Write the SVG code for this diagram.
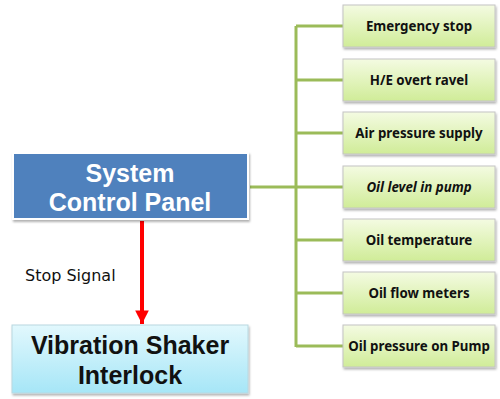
<svg xmlns="http://www.w3.org/2000/svg" width="500" height="399" viewBox="0 0 500 399">
<defs>
<linearGradient id="gGreen" x1="0" y1="0" x2="0" y2="1">
<stop offset="0" stop-color="#F4FBE2"/>
<stop offset="1" stop-color="#D0EC98"/>
</linearGradient>
<linearGradient id="gCyan" x1="0" y1="0" x2="0" y2="1">
<stop offset="0" stop-color="#E2F8FD"/>
<stop offset="1" stop-color="#A6E6F7"/>
</linearGradient>
<filter id="sh" x="-10%" y="-10%" width="120%" height="130%">
<feDropShadow dx="1" dy="2" stdDeviation="1.2" flood-color="#000" flood-opacity="0.3"/>
</filter>
<marker id="ah" viewBox="0 0 10 10" refX="10" refY="5" markerWidth="3.6" markerHeight="3.4" orient="auto" markerUnits="strokeWidth">
<path d="M0,0 L10,5 L0,10 z" fill="#FF0000"/>
</marker>
</defs>
<style>
.g rect{fill:url(#gGreen);stroke:#C4C4C4;stroke-width:1;filter:url(#sh)}
.g text{font-family:"Noto Sans","Open Sans",sans-serif;font-weight:bold;font-size:13.3px;fill:#111;text-anchor:middle}
.big{font-family:"Liberation Sans",Arial,sans-serif;font-weight:bold;font-size:25px;text-anchor:middle}
.conn line{stroke:#9BBB59;stroke-width:3;fill:none}
</style>
<rect width="500" height="399" fill="#FFFFFF"/>
<g class="conn" id="connectors">
<line x1="296" y1="26" x2="296" y2="347"/>
<line x1="250" y1="187" x2="296" y2="187"/>
<line x1="296" y1="26" x2="343" y2="26"/>
<line x1="296" y1="80" x2="343" y2="80"/>
<line x1="296" y1="133" x2="343" y2="133"/>
<line x1="296" y1="187" x2="343" y2="187"/>
<line x1="296" y1="240" x2="343" y2="240"/>
<line x1="296" y1="293" x2="343" y2="293"/>
<line x1="296" y1="346" x2="343" y2="346"/>
<line x1="142" y1="221" x2="142" y2="324" marker-end="url(#ah)" style="stroke:#FF0000;stroke-width:4"/>
<text x="25" y="281" font-family="DejaVu Sans,sans-serif" font-size="16" fill="#111">Stop Signal</text>
</g>
<g id="scp">
<rect x="13" y="153" width="235" height="66" fill="#4F81BD" stroke="#FFFFFF" stroke-width="2" filter="url(#sh)"/>
<text class="big" x="130" y="182" fill="#FFFFFF">System</text>
<text class="big" x="130" y="211" fill="#FFFFFF">Control  Panel</text>
</g>
<g id="vsi">
<rect x="12" y="325" width="236" height="68" fill="url(#gCyan)" stroke="#B9D8E0" stroke-width="1" filter="url(#sh)"/>
<text class="big" x="130" y="354" fill="#111">Vibration  Shaker</text>
<text class="big" x="130" y="384" fill="#111">Interlock</text>
</g>
<g class="g" id="n1"><rect x="343" y="5" width="152" height="42"/><text x="419" y="31">Emergency stop</text></g>
<g class="g" id="n2"><rect x="343" y="59" width="152" height="42"/><text x="419" y="85">H/E overt ravel</text></g>
<g class="g" id="n3"><rect x="343" y="112" width="152" height="42"/><text x="419" y="138">Air pressure supply</text></g>
<g class="g" id="n4"><rect x="343" y="166" width="152" height="42"/><text x="419" y="192" font-style="italic" font-weight="normal">Oil level in pump</text></g>
<g class="g" id="n5"><rect x="343" y="219" width="152" height="42"/><text x="419" y="245">Oil temperature</text></g>
<g class="g" id="n6"><rect x="343" y="272" width="152" height="42"/><text x="419" y="298">Oil flow meters</text></g>
<g class="g" id="n7"><rect x="343" y="325" width="152" height="42"/><text x="419" y="351">Oil pressure on Pump</text></g>
</svg>
